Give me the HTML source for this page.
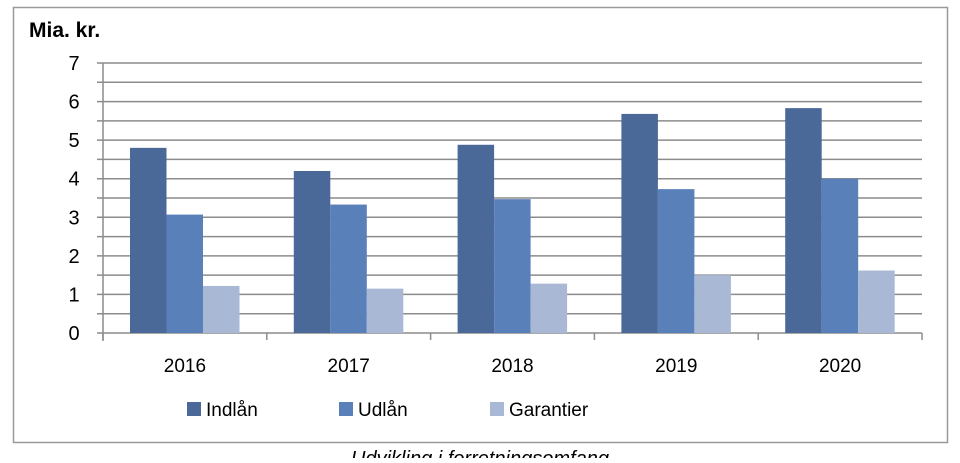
<!DOCTYPE html>
<html><head><meta charset="utf-8"><style>
body{margin:0;background:#fff;width:960px;height:458px;overflow:hidden;font-family:"Liberation Sans",sans-serif}
</style></head><body>
<svg width="960" height="458" id="c" xmlns="http://www.w3.org/2000/svg" font-family="Liberation Sans, sans-serif">
<rect x="13.5" y="7.5" width="934" height="435" fill="#fff" stroke="#999" stroke-width="1.5"/>
<text x="29" y="37" font-size="21" font-weight="bold" fill="#000">Mia. kr.</text>
<g id="grid"></g><g id="bars"></g><g id="axes"></g>
<g font-size="19">
<rect x="187" y="402" width="14" height="14" fill="#4a6898"/>
<text x="206" y="416">Indlån</text>
<rect x="339" y="402" width="14" height="14" fill="#5a80ba"/>
<text x="358" y="416">Udlån</text>
<rect x="490" y="402" width="14" height="14" fill="#a9b8d5"/>
<text x="509" y="416">Garantier</text>
</g>
<text x="480" y="465" font-size="20" font-style="italic" text-anchor="middle">Udvikling i forretningsomfang</text>
</svg>
<script>
const categories=["2016","2017","2018","2019","2020"];
const indlan=[4.8,4.2,4.88,5.68,5.83];
const udlan=[3.07,3.33,3.47,3.73,4.0];
const garantier=[1.22,1.15,1.28,1.5,1.62];
const yTicks=[0,1,2,3,4,5,6,7];
const NS="http://www.w3.org/2000/svg";
const x0=103,x1=922,y0=333,y7=63,ymax=7;
const yS=v=>y0-(v/ymax)*(y0-y7);
const cw=(x1-x0)/categories.length;
function mk(t,a,p){const e=document.createElementNS(NS,t);for(const k in a)e.setAttribute(k,a[k]);p.appendChild(e);return e;}
const grid=document.getElementById('grid'),bars=document.getElementById('bars'),axes=document.getElementById('axes');
for(let v=0;v<=ymax;v+=0.5){
 const y=yS(v);
 const l=mk('line',{x1:x0-6,x2:x1,y1:y,y2:y,stroke:'#8c8c8c','stroke-width':1.5},grid);
 
 
}
yTicks.forEach(v=>{
 const t=mk('text',{x:74,y:yS(v)+7,'font-size':20,'text-anchor':'middle'},axes);
 t.textContent=v;
 
 
});
const ya=mk('line',{x1:x0,x2:x0,y1:y7,y2:y0+8,stroke:'#8c8c8c','stroke-width':1.5},axes);


for(let i=0;i<=categories.length;i++){
 const tk=mk('line',{x1:x0+i*cw,x2:x0+i*cw,y1:y0,y2:y0+7,stroke:'#8c8c8c','stroke-width':1.5},axes);
 
 
}
const series=[[indlan,'#4a6898','indlan'],[udlan,'#5a80ba','udlan'],[garantier,'#a9b8d5','garantier']];
const bw=36.5,off=27;
categories.forEach((c,i)=>{
 series.forEach((s,j)=>{
  const v=s[0][i];
  const r=mk('rect',{x:x0+i*cw+off+j*bw,y:yS(v),width:bw,height:y0-yS(v),fill:s[1]},bars);
  
  
 });
 const t=mk('text',{x:x0+i*cw+cw/2,y:372,'font-size':19,'text-anchor':'middle'},axes);
 t.textContent=c;
 
 
});
</script>
</body></html>
